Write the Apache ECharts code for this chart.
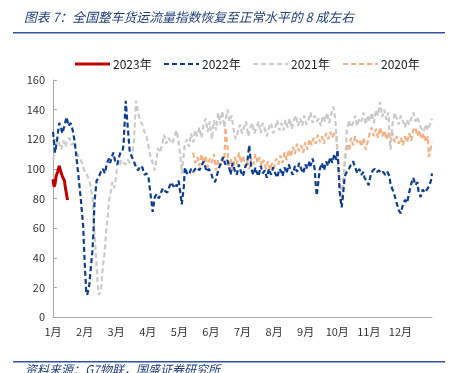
<!DOCTYPE html>
<html>
<head>
<meta charset="utf-8">
<script src="https://cdn.jsdelivr.net/npm/echarts@6/dist/echarts.min.js"></script>
<style>html,body{margin:0;padding:0;background:#fff}#c{width:453px;height:373px}</style>
</head>
<body>
<div id="c"></div>
<script>
// x = day of year (0..365), y = index value
const monthLabels = ['1月','2月','3月','4月','5月','6月','7月','8月','9月','10月','11月','12月'];
const yTicks = [0, 20, 40, 60, 80, 100, 120, 140, 160];
const seriesNames = ['2023年', '2022年', '2021年', '2020年'];

const s2023 = [[0,93],[1,88],[2,90],[3,95],[5,99],[6,102],[7,101],[8,97],[9,95],[10,96],[11,92],[12,87],[13,83],[14,79]];

const s2022 = [[0,125],[2,111],[4,120],[6,131],[8,127],[9,124],[11,129],[13,135],[15,129],[17,131],[19,126],[21,118],[23,105],[25,92],[27,78],[29,62],[30,45],[31,30],[32,17],[33,15],[35,22],[36,30],[38,45],[39,58],[40,78],[42,92],[44,94],[46,98],[48,100],[50,97],[52,104],[54,107],[55,104],[58,111],[60,105],[62,103],[64,109],[65,111],[67,112],[68,117],[70,146],[72,128],[74,111],[76,108],[78,105],[80,101],[82,99],[84,102],[86,101],[88,96],[90,97],[92,94],[93,88],[95,77],[96,71],[98,81],[100,83],[102,80],[104,84],[106,87],[108,85],[110,84],[112,88],[114,91],[116,88],[118,90],[119,88],[121,92],[123,82],[124,76],[126,88],[127,101],[129,97],[131,96],[133,100],[135,98],[137,100],[139,101],[141,99],[143,102],[145,105],[146,103],[148,98],[150,100],[152,98],[154,93],[156,91],[158,96],[160,101],[162,104],[164,108],[166,103],[168,106],[170,100],[171,96],[173,104],[175,99],[177,96],[179,103],[181,98],[183,95],[185,101],[187,104],[189,116],[191,100],[193,96],[195,101],[196,98],[198,95],[200,102],[202,97],[204,99],[206,94],[208,100],[210,96],[212,101],[214,97],[216,94],[218,100],[220,98],[221,95],[223,101],[225,97],[227,103],[229,99],[231,96],[233,102],[235,98],[237,104],[239,100],[241,97],[243,103],[245,100],[247,105],[248,102],[250,107],[252,100],[253,90],[254,82],[255,88],[257,100],[259,104],[261,99],[263,105],[265,102],[267,108],[269,104],[271,110],[273,106],[274,113],[275,100],[276,85],[278,74],[279,80],[281,95],[283,98],[285,100],[287,103],[289,105],[291,101],[293,97],[295,100],[297,96],[299,98],[300,94],[302,92],[304,89],[306,96],[308,99],[310,100],[312,98],[314,99],[316,97],[318,98],[320,96],[322,98],[324,95],[325,90],[327,86],[329,82],[331,77],[333,72],[335,70],[337,76],[339,79],[341,77],[343,84],[345,90],[347,94],[349,89],[351,91],[352,85],[354,81],[356,86],[358,84],[360,86],[362,88],[364,92],[365,97]];

const s2021 = [[0,106],[2,112],[4,120],[6,117],[8,113],[10,119],[12,115],[14,120],[16,121],[18,116],[20,118],[22,112],[24,109],[26,107],[28,104],[30,99],[32,97],[34,94],[36,89],[38,80],[39,68],[40,57],[41,45],[42,33],[43,23],[44,15],[46,17],[47,25],[48,34],[50,45],[51,57],[53,70],[54,79],[56,86],[57,91],[59,87],[61,96],[62,104],[64,102],[66,106],[68,104],[70,103],[72,106],[74,104],[76,107],[78,120],[80,146],[82,138],[84,132],[86,130],[88,125],[90,122],[92,115],[94,108],[96,104],[98,99],[100,108],[101,114],[103,111],[105,116],[107,123],[109,117],[111,121],[113,119],[115,117],[117,122],[119,126],[121,118],[123,106],[124,97],[126,110],[127,117],[129,120],[131,115],[133,124],[135,118],[137,126],[139,122],[141,128],[143,121],[145,130],[147,134],[149,125],[151,132],[153,120],[155,133],[157,126],[159,138],[161,130],[163,139],[165,128],[168,140],[170,132],[172,136],[174,126],[176,120],[178,125],[180,130],[182,124],[184,128],[186,132],[188,122],[190,128],[192,131],[194,124],[196,128],[198,132],[200,124],[202,131],[204,127],[206,122],[208,128],[210,131],[212,124],[214,128],[216,133],[218,126],[220,131],[222,126],[224,133],[226,128],[228,134],[230,127],[232,133],[234,136],[236,129],[238,134],[240,129],[242,136],[244,130],[246,133],[248,138],[250,131],[252,136],[254,132],[256,134],[258,129],[260,136],[262,132],[264,138],[266,131],[268,137],[270,142],[272,133],[273,120],[275,100],[277,86],[278,82],[280,95],[282,112],[283,126],[285,133],[287,128],[289,131],[291,136],[293,129],[295,134],[297,132],[299,138],[301,130],[303,136],[305,132],[307,138],[309,131],[311,140],[313,136],[315,145],[317,135],[319,140],[321,133],[323,138],[325,113],[327,130],[329,138],[331,134],[333,130],[335,136],[337,132],[339,128],[341,133],[343,130],[345,134],[347,138],[349,132],[351,135],[353,130],[355,127],[357,125],[359,130],[361,126],[363,130],[365,134]];

const s2020 = [[135,111],[137,104],[139,108],[141,102],[143,110],[145,104],[147,109],[149,101],[151,107],[153,104],[155,110],[157,99],[159,106],[161,102],[163,108],[165,104],[166,128],[168,115],[169,101],[171,107],[173,99],[175,108],[177,103],[179,111],[181,104],[183,109],[185,101],[187,105],[189,100],[191,107],[193,103],[195,110],[197,104],[199,108],[201,102],[203,106],[205,100],[207,105],[209,99],[211,104],[213,101],[215,107],[217,103],[219,109],[221,104],[223,111],[225,106],[227,113],[229,108],[231,115],[233,110],[235,117],[237,112],[239,116],[241,111],[243,118],[245,113],[247,120],[249,116],[251,121],[253,117],[255,123],[257,118],[259,122],[261,117],[263,124],[265,120],[267,125],[269,121],[271,124],[273,122],[274,110],[276,90],[277,77],[279,85],[281,105],[283,117],[285,112],[287,121],[289,116],[291,122],[293,118],[295,120],[297,115],[299,121],[301,113],[303,118],[305,124],[307,128],[309,122],[311,127],[313,121],[315,128],[317,122],[319,126],[321,120],[323,125],[325,118],[327,124],[329,118],[331,122],[333,117],[335,121],[337,116],[339,122],[341,118],[343,124],[345,119],[347,126],[349,128],[351,122],[353,126],[355,120],[357,124],[359,118],[361,122],[362,108],[363,107],[365,118]];

const FONT = '"Noto Sans CJK SC", "Noto Sans", sans-serif';
const COLORS = ['#c00000', '#0b3d91', '#cacaca', '#f4b183'];
const chart = echarts.init(document.getElementById('c'), null, {renderer: 'canvas'});
const monthLen = 365 / 12;

function mk(name, data, color, width, dashed, z) {
  return {
    name: name, type: 'line', data: data, showSymbol: false, symbol: 'none', z: z,
    lineStyle: {color: color, width: width, type: dashed ? [5, 3] : 'solid'},
    itemStyle: {color: color}, animation: false
  };
}

// hand-drawn legend (line samples + labels)
const legendX = [75, 164, 253, 343];
const legendGraphics = [];
seriesNames.forEach(function (n, i) {
  const x = legendX[i];
  legendGraphics.push({
    type: 'line', shape: {x1: x, y1: 64, x2: x + 35, y2: 64},
    style: {stroke: COLORS[i], lineWidth: i === 0 ? 3 : 2.2, lineDash: i === 0 ? null : [5, 3]}
  });
  legendGraphics.push({
    type: 'text', x: x + 38, y: 64,
    style: {text: n, fill: '#222', font: '12px ' + FONT, textVerticalAlign: 'middle', verticalAlign: 'middle'}
  });
});

chart.setOption({
  animation: false,
  backgroundColor: '#fff',
  textStyle: {fontFamily: FONT},
  graphic: [
    {type: 'text', left: 24, top: 11, style: {text: '图表 7：全国整车货运流量指数恢复至正常水平的 8 成左右', fill: '#1f3c78', font: 'italic 12.8px ' + FONT}},
    {type: 'rect', shape: {x: 13, y: 32, width: 432, height: 1.6}, style: {fill: '#2f5597'}},
    {type: 'rect', shape: {x: 13, y: 361, width: 432, height: 1.6}, style: {fill: '#2f5597'}},
    {type: 'text', left: 25, top: 363, style: {text: '资料来源：G7物联，国盛证券研究所', fill: '#1f3c78', font: 'italic 12px ' + FONT}}
  ].concat(legendGraphics),
  grid: {left: 53, right: 21, top: 80, bottom: 56, containLabel: false},
  xAxis: {
    type: 'value', min: 0, max: 365, interval: monthLen,
    axisLine: {lineStyle: {color: '#a6a6a6', width: 1}},
    axisTick: {show: false},
    splitLine: {show: false},
    axisLabel: {
      color: '#333', fontSize: 11, margin: 9, fontFamily: FONT,
      formatter: function (v) { const i = Math.round(v / monthLen); return i < 12 ? monthLabels[i] : ''; }
    }
  },
  yAxis: {
    type: 'value', min: yTicks[0], max: yTicks[yTicks.length - 1], interval: 20,
    axisLine: {show: true, lineStyle: {color: '#a6a6a6', width: 1}},
    axisTick: {show: true, inside: true, length: 4, lineStyle: {color: '#a6a6a6'}},
    splitLine: {show: false},
    axisLabel: {color: '#333', fontSize: 11, margin: 8, fontFamily: FONT}
  },
  series: [
    mk(seriesNames[3], s2020, COLORS[3], 2.2, true, 2),
    mk(seriesNames[2], s2021, COLORS[2], 2.2, true, 3),
    mk(seriesNames[1], s2022, COLORS[1], 2.2, true, 4),
    mk(seriesNames[0], s2023, COLORS[0], 3, false, 5)
  ]
});
</script>
</body>
</html>
